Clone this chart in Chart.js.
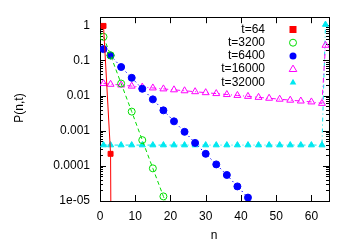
<!DOCTYPE html>
<html>
<head>
<meta charset="utf-8">
<script src="https://cdn.jsdelivr.net/npm/chart.js@4/dist/chart.umd.min.js"></script>
<style>
  html, body { margin: 0; padding: 0; background: #fff; }
  canvas { display: block; }
</style>
</head>
<body>
<canvas id="grafiek" width="350" height="245"></canvas>
<script>
// n-waarden (1, 3, 6, ... 63, 64)
const nValues = [1, 3, 6, 9, 12, 15, 18, 21, 24, 27, 30, 33, 36, 39, 42, 45, 48, 51, 54, 57, 60, 63, 64];

const seriesLabels = ['t=64', 't=3200', 't=6400', 't=16000', 't=32000'];

const p64 = [0.96, 2.2e-4, 1e-60];
const p3200 = [0.47, 0.14, 0.022, 0.0035, 5.4e-4, 8.5e-5, 1.35e-5, 2.1e-6];
const p6400 = [0.21, 0.138, 0.065, 0.032, 0.0156, 0.0078, 0.0038, 0.00185, 9.3e-4, 4.5e-4,
               2.2e-4, 1.1e-4, 5.5e-5, 2.6e-5, 1.25e-5, 6e-6];
const p16000 = [0.022, 0.021, 0.020, 0.0186, 0.0175, 0.0165, 0.0155, 0.0146, 0.0137, 0.0129,
                0.0121, 0.0114, 0.0107, 0.0101, 0.0095, 0.0089, 0.0084, 0.0079, 0.0074, 0.0070,
                0.0066, 0.0060, 0.27];
const p32000 = [3.9e-4, 3.9e-4, 3.9e-4, 3.9e-4, 3.9e-4, 3.9e-4, 3.9e-4, 3.9e-4, 3.9e-4, 3.9e-4,
                3.9e-4, 3.9e-4, 3.9e-4, 3.9e-4, 3.9e-4, 3.9e-4, 3.9e-4, 3.9e-4, 3.9e-4, 3.9e-4,
                3.9e-4, 3.9e-4, 1.05];

const xTicks = [0, 10, 20, 30, 40, 50, 60];
const yTicks = [1e-5, 1e-4, 1e-3, 1e-2, 1e-1, 1];
const yTickLabels = ['1e-05', '0.0001', '0.001', '0.01', '0.1', '1'];

const FONT = '"Liberation Sans", Arial, sans-serif';

function punten(waarden) {
    const out = [];
    waarden.forEach((v, i) => { if (v != null) out.push({ x: nValues[i], y: v }); });
    return out;
}

const stijlen = [
    { kleur: '#ff0000', vorm: 'rect', vol: true, r: 3.5, dash: [] },
    { kleur: '#00dd00', vorm: 'circle', vol: false, r: 3.5, dash: [4, 3] },
    { kleur: '#0000ff', vorm: 'circle', vol: true, r: 3.5, dash: [1.5, 3] },
    { kleur: '#ff00ff', vorm: 'triangle', vol: false, r: 4, dash: [5, 3, 1, 3] },
    { kleur: '#00e8f0', vorm: 'triangle', vol: true, r: 3.5, dash: [4, 3, 1, 3] }
];

const reeksen = [p64, p3200, p6400, p16000, p32000];

const datasets = reeksen.map((r, i) => ({
    label: seriesLabels[i],
    data: punten(r),
    borderColor: stijlen[i].kleur,
    backgroundColor: stijlen[i].vol ? stijlen[i].kleur : 'rgba(0,0,0,0)',
    pointBorderColor: stijlen[i].kleur,
    pointBackgroundColor: stijlen[i].vol ? stijlen[i].kleur : 'rgba(0,0,0,0)',
    pointStyle: stijlen[i].vorm,
    pointRadius: stijlen[i].r,
    pointBorderWidth: 1,
    borderWidth: 1,
    borderDash: stijlen[i].dash,
    tension: 0,
    fill: false
}));

function tekenPunt(ctx, s, x, y) {
    ctx.save();
    ctx.fillStyle = s.kleur;
    ctx.strokeStyle = s.kleur;
    ctx.lineWidth = 1;
    ctx.setLineDash([]);
    ctx.beginPath();
    if (s.vorm === 'rect') {
        ctx.rect(x - s.r, y - s.r, 2 * s.r, 2 * s.r);
    } else if (s.vorm === 'circle') {
        ctx.arc(x, y, s.r, 0, Math.PI * 2);
    } else {
        const h = s.r * 1.5;
        ctx.moveTo(x, y - s.r);
        ctx.lineTo(x + s.r * 0.95, y + s.r * 0.6);
        ctx.lineTo(x - s.r * 0.95, y + s.r * 0.6);
        ctx.closePath();
    }
    if (s.vol) ctx.fill(); else ctx.stroke();
    ctx.restore();
}

const kaderPlugin = {
    id: 'kader',
    beforeDatasetsDraw(chart) {
        const ctx = chart.ctx;
        const a = chart.chartArea;
        const xs = chart.scales.x, ys = chart.scales.y;
        ctx.save();
        ctx.strokeStyle = '#000';
        ctx.lineWidth = 1;
        ctx.beginPath();
        xTicks.forEach(v => {
            const px = Math.round(xs.getPixelForValue(v)) + 0.5;
            ctx.moveTo(px, a.bottom); ctx.lineTo(px, a.bottom - 6);
            ctx.moveTo(px, a.top); ctx.lineTo(px, a.top + 6);
        });
        yTicks.forEach((v, i) => {
            const py = Math.round(ys.getPixelForValue(v)) + 0.5;
            ctx.moveTo(a.left, py); ctx.lineTo(a.left + 6, py);
            ctx.moveTo(a.right, py); ctx.lineTo(a.right - 6, py);
            if (i < yTicks.length - 1) {
                for (let m = 2; m <= 9; m++) {
                    const my = Math.round(ys.getPixelForValue(v * m)) + 0.5;
                    ctx.moveTo(a.left, my); ctx.lineTo(a.left + 3, my);
                    ctx.moveTo(a.right, my); ctx.lineTo(a.right - 3, my);
                }
            }
        });
        ctx.stroke();
        ctx.strokeRect(Math.round(a.left) + 0.5, Math.round(a.top) + 0.5,
                       Math.round(a.right - a.left), Math.round(a.bottom - a.top));
        ctx.restore();
    },
    afterDraw(chart) {
        const ctx = chart.ctx;
        ctx.save();
        ctx.fillStyle = '#000';
        ctx.font = '12px ' + FONT;
        ctx.textAlign = 'right';
        ctx.textBaseline = 'middle';
        seriesLabels.forEach((lab, i) => {
            const y = 29.5 + i * 13.2;
            ctx.fillText(lab, 265, y);
            tekenPunt(ctx, stijlen[i], 293, y);
        });
        // as-titels
        ctx.fillStyle = '#000';
        ctx.textAlign = 'center';
        ctx.fillText('n', 214, 236);
        ctx.translate(20, 108);
        ctx.rotate(-Math.PI / 2);
        ctx.fillText('P(n,t)', 0, 0);
        ctx.restore();
    }
};

const ctx = document.getElementById('grafiek').getContext('2d');
new Chart(ctx, {
    type: 'line',
    data: { datasets: datasets },
    options: {
        responsive: false,
        animation: false,
        devicePixelRatio: 1,
        layout: { padding: { top: 15, right: 21, left: 0, bottom: 0 } },
        plugins: { legend: { display: false }, tooltip: { enabled: false } },
        scales: {
            x: {
                type: 'linear',
                min: 0,
                max: 65,
                grid: { display: false, drawTicks: false },
                border: { display: false },
                afterBuildTicks: s => { s.ticks = xTicks.map(v => ({ value: v })); },
                afterFit: s => { s.height = 44; },
                ticks: {
                    color: '#000',
                    font: { size: 12, family: FONT },
                    padding: 8,
                    maxRotation: 0,
                    autoSkip: false
                }
            },
            y: {
                type: 'logarithmic',
                min: 1e-5,
                max: 1.7,
                grid: { display: false, drawTicks: false },
                border: { display: false },
                afterBuildTicks: s => { s.ticks = yTicks.map(v => ({ value: v })); },
                afterFit: s => { s.width = 100; },
                ticks: {
                    color: '#000',
                    font: { size: 12, family: FONT },
                    padding: 10,
                    autoSkip: false,
                    callback: v => {
                        const i = yTicks.findIndex(t => Math.abs(Math.log10(t) - Math.log10(v)) < 1e-6);
                        return i >= 0 ? yTickLabels[i] : '';
                    }
                }
            }
        }
    },
    plugins: [kaderPlugin]
});
</script>
</body>
</html>
